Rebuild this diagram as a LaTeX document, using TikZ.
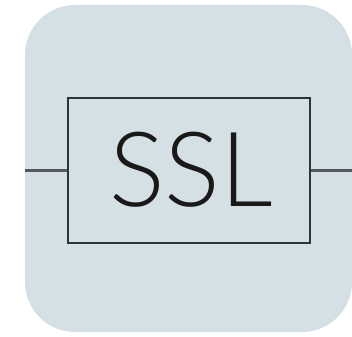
\documentclass[tikz,border=0pt]{standalone}
\usepackage{fontspec}
\newfontfamily\thinfont{Lato}[UprightFont=* Light]
\definecolor{bgc}{HTML}{D5E0E5}
\definecolor{boxc}{HTML}{2E3333}
\definecolor{wirec}{HTML}{555A5C}
\tikzset{
  bgshape/.style={fill=bgc, draw=none, rounded corners=50pt},
  gatebox/.style={draw=boxc, line width=2.3pt, minimum width=242pt, minimum height=145pt, inner sep=0pt},
  wire/.style={draw=wirec, line width=2.6pt},
  lbl/.style={font=\thinfont\fontsize{104}{104}\selectfont, text=black!90, anchor=base}
}
\begin{document}
\begin{tikzpicture}[x=1pt,y=-1pt]
\useasboundingbox (0,0) rectangle (352,336);
\fill[bgshape] (25,5) rectangle (352,332);
\node[gatebox] (g) at (189,170.5) {};
\node[lbl] (t) at (191,206) {SSL};
\coordinate (l) at (25,170.5);
\coordinate (r) at (352,170.5);
\draw[wire] (l) -- (g.west);
\draw[wire] (g.east) -- (r);
\end{tikzpicture}
\end{document}
